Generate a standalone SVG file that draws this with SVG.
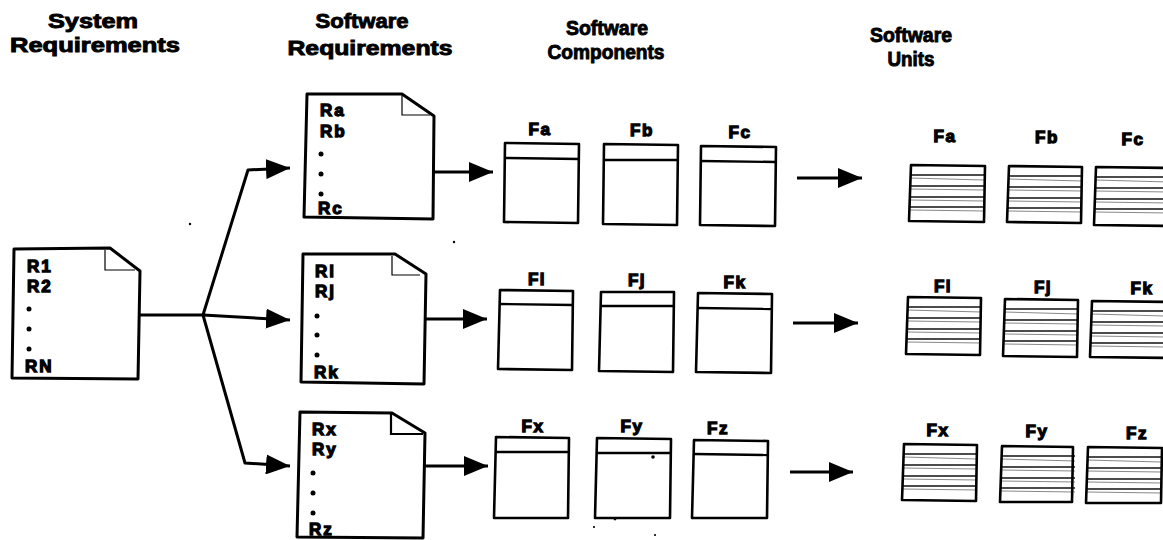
<svg xmlns="http://www.w3.org/2000/svg" xmlns:xlink="http://www.w3.org/1999/xlink" width="1163" height="540" viewBox="0 0 1163 540">
<style>
.title{font-family:"Liberation Sans",Arial,sans-serif;font-weight:bold;font-size:20px;fill:#000;stroke:#000;stroke-width:0.9;text-anchor:middle}
.req{font-family:"Liberation Sans",Arial,sans-serif;font-weight:bold;font-size:17px;fill:#000;stroke:#000;stroke-width:1.3;letter-spacing:2px}
.lbl{font-family:"Liberation Sans",Arial,sans-serif;font-weight:bold;font-size:17px;fill:#000;stroke:#000;stroke-width:1.3;letter-spacing:1.5px;text-anchor:middle}
.doc{fill:#fff;stroke:#000;stroke-width:3;stroke-linejoin:round}
.fold{fill:none;stroke:#000;stroke-width:1.2}
.box{fill:#fff;stroke:#000;stroke-width:2.6;stroke-linejoin:round}
.hdr{stroke:#000;stroke-width:2.4}
.conn{fill:none;stroke:#000;stroke-width:3;stroke-linejoin:round}
.stripe{stroke:#111;stroke-width:1.3}
.stripe2{stroke:#888;stroke-width:1}
.dot{fill:#000}
</style>
<defs>
<marker id="ah" viewBox="0 0 24 20" refX="24" refY="10" markerWidth="24" markerHeight="20" markerUnits="userSpaceOnUse" orient="auto">
<path d="M0,0 L24,10 L0,20 z" fill="#000"/>
</marker>
<g id="stripes">
<line class="stripe" x1="0" y1="10" x2="74" y2="10"/>
<line class="stripe2" x1="0" y1="13" x2="74" y2="15"/>
<line class="stripe" x1="0" y1="21" x2="74" y2="21"/>
<line class="stripe2" x1="0" y1="24" x2="74" y2="25"/>
<line class="stripe" x1="0" y1="32" x2="74" y2="32"/>
<line class="stripe2" x1="0" y1="35" x2="74" y2="36"/>
<line class="stripe" x1="0" y1="42" x2="74" y2="42"/>
<line class="stripe2" x1="0" y1="45" x2="74" y2="46"/>
</g>
</defs>
<rect width="1163" height="540" fill="#fff"/>

<g id="titles">
<text class="title" x="93" y="28" textLength="90" lengthAdjust="spacingAndGlyphs">System</text>
<text class="title" x="95" y="52" textLength="170" lengthAdjust="spacingAndGlyphs">Requirements</text>
<text class="title" x="362" y="28" textLength="93" lengthAdjust="spacingAndGlyphs">Software</text>
<text class="title" x="370" y="55" textLength="165" lengthAdjust="spacingAndGlyphs">Requirements</text>
<text class="title" x="607" y="35" textLength="82" lengthAdjust="spacingAndGlyphs">Software</text>
<text class="title" x="606" y="59" textLength="117" lengthAdjust="spacingAndGlyphs">Components</text>
<text class="title" x="911" y="42" textLength="82" lengthAdjust="spacingAndGlyphs">Software</text>
<text class="title" x="911" y="66" textLength="47" lengthAdjust="spacingAndGlyphs">Units</text>
</g>

<g id="connectors">
<path class="conn" d="M140,315 L203,315"/>
<path class="conn" d="M203,315 L248,170 L290,168" marker-end="url(#ah)"/>
<path class="conn" d="M203,315 L290,320" marker-end="url(#ah)"/>
<path class="conn" d="M203,315 L245,463 L290,466" marker-end="url(#ah)"/>
<path class="conn" d="M434,172 L493,172" marker-end="url(#ah)"/>
<path class="conn" d="M426,319 L487,319" marker-end="url(#ah)"/>
<path class="conn" d="M425,466 L488,466" marker-end="url(#ah)"/>
<path class="conn" d="M797,178 L862,178" marker-end="url(#ah)"/>
<path class="conn" d="M793,323 L858,323" marker-end="url(#ah)"/>
<path class="conn" d="M790,472 L853,472" marker-end="url(#ah)"/>
</g>

<g id="sys-req">
<path class="doc" d="M14,249 L110,248 L140,271 L138,379 L12,378 Z"/>
<path class="fold" d="M105,250 L105,270 L135,270"/>
<text class="req" x="27" y="272">R1</text>
<text class="req" x="27" y="292">R2</text>
<circle class="dot" cx="29" cy="309" r="2.5"/>
<circle class="dot" cx="29" cy="329" r="2.5"/>
<circle class="dot" cx="29" cy="349" r="2.5"/>
<text class="req" x="25" y="372">RN</text>
</g>

<g id="sw-req-a">
<path class="doc" d="M307,94 L402,94 L434,116 L433,219 L304,217 Z"/>
<path class="fold" d="M402,95 L402,115 L430,115"/>
<text class="req" x="320" y="116">Ra</text>
<text class="req" x="320" y="137">Rb</text>
<circle class="dot" cx="321" cy="154" r="2.5"/>
<circle class="dot" cx="321" cy="174" r="2.5"/>
<circle class="dot" cx="321" cy="194" r="2.5"/>
<text class="req" x="318" y="214">Rc</text>
</g>

<g id="sw-req-i">
<path class="doc" d="M303,254 L395,254 L426,274 L424,384 L301,382 Z"/>
<path class="fold" d="M392,256 L392,275 L420,275"/>
<text class="req" x="315" y="277">Rl</text>
<text class="req" x="315" y="297">Rj</text>
<circle class="dot" cx="317" cy="316" r="2.5"/>
<circle class="dot" cx="317" cy="335" r="2.5"/>
<circle class="dot" cx="317" cy="355" r="2.5"/>
<text class="req" x="314" y="378">Rk</text>
</g>

<g id="sw-req-x">
<path class="doc" d="M300,412 L392,413 L425,433 L423,538 L297,537 Z"/>
<path class="fold" d="M391,414 L391,434 L423,434" style="stroke-width:2.2"/>
<text class="req" x="312" y="435">Rx</text>
<text class="req" x="312" y="455">Ry</text>
<circle class="dot" cx="313" cy="473" r="2.5"/>
<circle class="dot" cx="313" cy="493" r="2.5"/>
<circle class="dot" cx="313" cy="513" r="2.5"/>
<text class="req" x="309" y="535">Rz</text>
</g>

<g id="comp-fa">
<text class="lbl" x="540" y="135">Fa</text>
<path class="box" d="M505,143 L579,144 L578,223 L504,222 Z"/>
<line class="hdr" x1="505" y1="158" x2="579" y2="159"/>
</g>
<g id="comp-fb">
<text class="lbl" x="642" y="136">Fb</text>
<path class="box" d="M604,144 L678,145 L677,225 L603,224 Z"/>
<line class="hdr" x1="604" y1="160" x2="678" y2="160"/>
</g>
<g id="comp-fc">
<text class="lbl" x="740" y="138">Fc</text>
<path class="box" d="M701,146 L776,147 L775,226 L700,225 Z"/>
<line class="hdr" x1="701" y1="161" x2="776" y2="162"/>
</g>

<g id="comp-fl">
<text class="lbl" x="537" y="285">Fl</text>
<path class="box" d="M500,290 L573,291 L572,370 L498,369 Z"/>
<line class="hdr" x1="500" y1="304" x2="573" y2="305"/>
</g>
<g id="comp-fj">
<text class="lbl" x="637" y="286">Fj</text>
<path class="box" d="M601,292 L674,292 L673,372 L599,371 Z"/>
<line class="hdr" x1="601" y1="306" x2="674" y2="306"/>
</g>
<g id="comp-fk">
<text class="lbl" x="735" y="288">Fk</text>
<path class="box" d="M698,293 L772,294 L771,373 L696,372 Z"/>
<line class="hdr" x1="698" y1="308" x2="772" y2="309"/>
</g>

<g id="comp-fx">
<text class="lbl" x="533" y="432">Fx</text>
<path class="box" d="M496,437 L569,438 L568,518 L494,518 Z"/>
<line class="hdr" x1="496" y1="452" x2="569" y2="452"/>
</g>
<g id="comp-fy">
<text class="lbl" x="632" y="432">Fy</text>
<path class="box" d="M597,438 L671,439 L670,518 L595,518 Z"/>
<line class="hdr" x1="597" y1="453" x2="671" y2="453"/>
</g>
<g id="comp-fz">
<text class="lbl" x="718" y="434">Fz</text>
<path class="box" d="M694,440 L768,441 L767,518 L692,518 Z"/>
<line class="hdr" x1="694" y1="454" x2="768" y2="455"/>
</g>

<g id="unit-fa">
<text class="lbl" x="945" y="142">Fa</text>
<use xlink:href="#stripes" href="#stripes" x="910" y="165"/>
<path class="box" d="M911,165 L985,166 L984,222 L909,221 Z" style="fill:none"/>
</g>
<g id="unit-fb">
<text class="lbl" x="1047" y="143">Fb</text>
<use xlink:href="#stripes" href="#stripes" x="1008" y="166"/>
<path class="box" d="M1009,166 L1082,167 L1081,223 L1007,222 Z" style="fill:none"/>
</g>
<g id="unit-fc">
<text class="lbl" x="1133" y="145">Fc</text>
<use xlink:href="#stripes" href="#stripes" x="1095" y="167"/>
<path class="box" d="M1096,167 L1170,168 L1169,226 L1094,225 Z" style="fill:none"/>
</g>

<g id="unit-fl">
<text class="lbl" x="943" y="292">Fl</text>
<use xlink:href="#stripes" href="#stripes" x="907" y="297"/>
<path class="box" d="M908,297 L981,298 L980,355 L906,354 Z" style="fill:none"/>
</g>
<g id="unit-fj">
<text class="lbl" x="1043" y="293">Fj</text>
<use xlink:href="#stripes" href="#stripes" x="1004" y="299"/>
<path class="box" d="M1005,299 L1078,300 L1077,357 L1003,356 Z" style="fill:none"/>
</g>
<g id="unit-fk">
<text class="lbl" x="1142" y="294">Fk</text>
<use xlink:href="#stripes" href="#stripes" x="1091" y="301"/>
<path class="box" d="M1092,301 L1170,302 L1169,358 L1090,357 Z" style="fill:none"/>
</g>

<g id="unit-fx">
<text class="lbl" x="938" y="436">Fx</text>
<use xlink:href="#stripes" href="#stripes" x="903" y="444"/>
<path class="box" d="M904,444 L977,445 L976,501 L902,500 Z" style="fill:none"/>
</g>
<g id="unit-fy">
<text class="lbl" x="1037" y="437">Fy</text>
<use xlink:href="#stripes" href="#stripes" x="1001" y="446"/>
<path class="box" d="M1002,446 L1073,447 L1072,502 L1000,502 Z" style="fill:none"/>
</g>
<g id="unit-fz">
<text class="lbl" x="1137" y="439">Fz</text>
<use xlink:href="#stripes" href="#stripes" x="1087" y="447"/>
<path class="box" d="M1088,447 L1162,448 L1161,503 L1086,503 Z" style="fill:none"/>
</g>

<g id="specks">
<circle class="dot" cx="190" cy="224" r="1.2"/>
<circle class="dot" cx="454" cy="242" r="1.2"/>
<circle class="dot" cx="653" cy="457" r="1.8"/>
<circle class="dot" cx="615" cy="519" r="1.4"/>
<circle class="dot" cx="594" cy="527" r="1.1"/>
<circle class="dot" cx="655" cy="535" r="1.1"/>
</g>
</svg>
